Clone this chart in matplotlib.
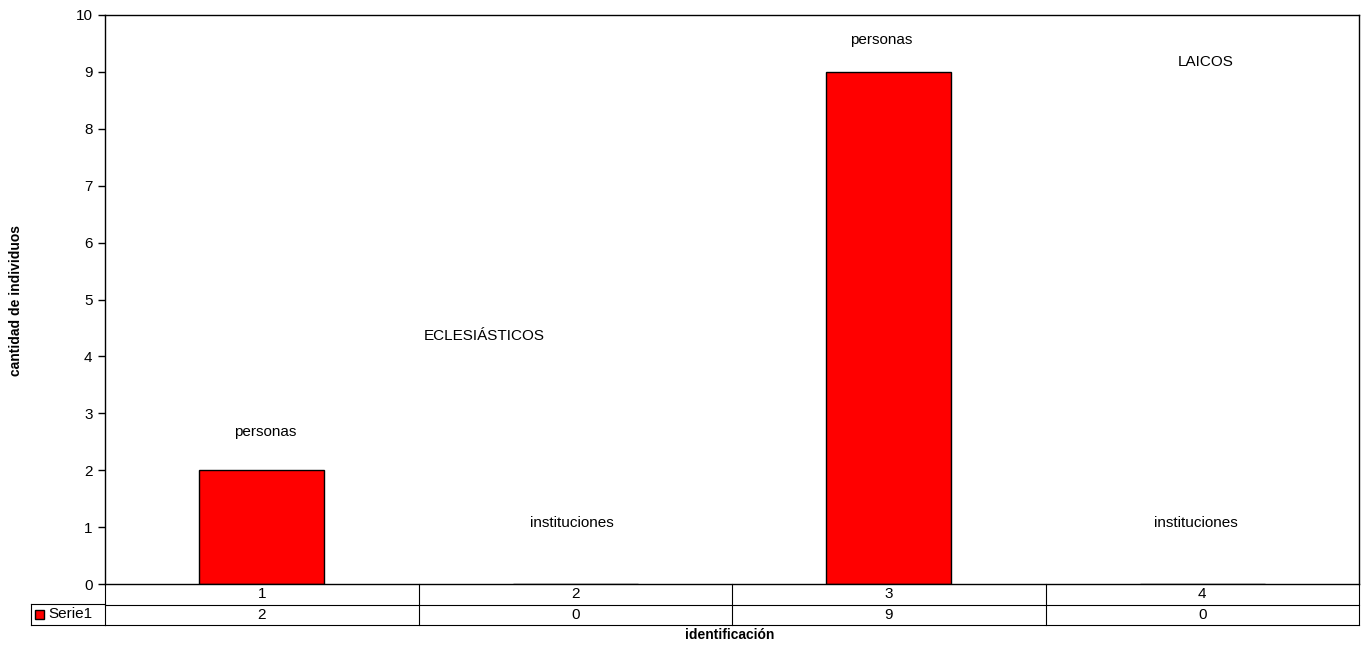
import matplotlib
matplotlib.use("Agg")
import matplotlib.pyplot as plt
from matplotlib.patches import Rectangle
import matplotlib.transforms as mtransforms

categories = ["1", "2", "3", "4"]
values = [2, 0, 9, 0]
series_name = "Serie1"
annotations = [
    ("personas", 0.01, 2.67),
    ("ECLESIÁSTICOS", 0.71, 4.36),
    ("instituciones", 0.99, 1.07),
    ("personas", 1.975, 9.56),
    ("LAICOS", 3.01, 9.17),
    ("instituciones", 2.98, 1.07),
]

plt.rcParams["font.family"] = ["Liberation Sans", "DejaVu Sans"]
FS = 11

W, H = 1369, 646
fig = plt.figure(figsize=(W / 100, H / 100), dpi=100)
x0, x1, y0, y1 = 105, 1359, 15, 584
ax = fig.add_axes([x0 / W, (H - y1) / H, (x1 - x0) / W, (y1 - y0) / H])

xs = list(range(len(categories)))
ax.bar(xs, values, width=0.4, color="#ff0000", edgecolor="black", linewidth=1.0, zorder=3)
ax.set_xlim(-0.5, len(categories) - 0.5)
ax.set_ylim(0, 10)
ax.set_yticks(range(0, 11))
ax.tick_params(axis="y", direction="out", length=5, width=1, labelsize=FS, pad=4)
ax.set_xticks([])
for s in ax.spines.values():
    s.set_linewidth(1.0)
    s.set_color("black")
ax.spines["bottom"].set_zorder(4)

for txt, x, y in annotations:
    ax.text(x, y, txt, ha="center", va="center", fontsize=FS)

# data table below the axes
row_h = 20.5 / (y1 - y0)
trans = mtransforms.blended_transform_factory(ax.transData, ax.transAxes)
lw = 0.8
ax.plot([-0.5, 3.5], [-row_h, -row_h], transform=trans, color="black", lw=lw, clip_on=False)
ax.plot([-0.5, 3.5], [-2 * row_h, -2 * row_h], transform=trans, color="black", lw=lw, clip_on=False)
for b in [-0.5, 0.5, 1.5, 2.5, 3.5]:
    ax.plot([b, b], [0, -2 * row_h], transform=trans, color="black", lw=lw, clip_on=False)
for i, (c, v) in enumerate(zip(categories, values)):
    ax.text(i, -0.5 * row_h, c, transform=trans, ha="center", va="center", fontsize=FS)
    ax.text(i, -1.5 * row_h, str(v), transform=trans, ha="center", va="center", fontsize=FS)

# legend cell on the left
lx0 = 31 / W
lyt = (H - 604) / H
lyb = (H - 625) / H
ax_l = x0 / W
fig.add_artist(plt.Line2D([lx0, ax_l], [lyt, lyt], color="black", lw=lw, transform=fig.transFigure))
fig.add_artist(plt.Line2D([lx0, ax_l], [lyb, lyb], color="black", lw=lw, transform=fig.transFigure))
fig.add_artist(plt.Line2D([lx0, lx0], [lyb, lyt], color="black", lw=lw, transform=fig.transFigure))
fig.add_artist(Rectangle((35 / W, (H - 619) / H), 9 / W, 9 / H, facecolor="#ff0000",
                         edgecolor="black", lw=1.0, transform=fig.transFigure))
fig.text(48 / W, (H - 614.5) / H, series_name, ha="left", va="center", fontsize=FS)

fig.text(730 / W, (H - 635) / H, "identificación", ha="center", va="center",
         fontsize=10, fontweight="bold")
fig.text(16 / W, (H - 300) / H, "cantidad de individuos", ha="center", va="center",
         rotation=90, fontsize=10, fontweight="bold")

fig.savefig("out.png", dpi=100)
